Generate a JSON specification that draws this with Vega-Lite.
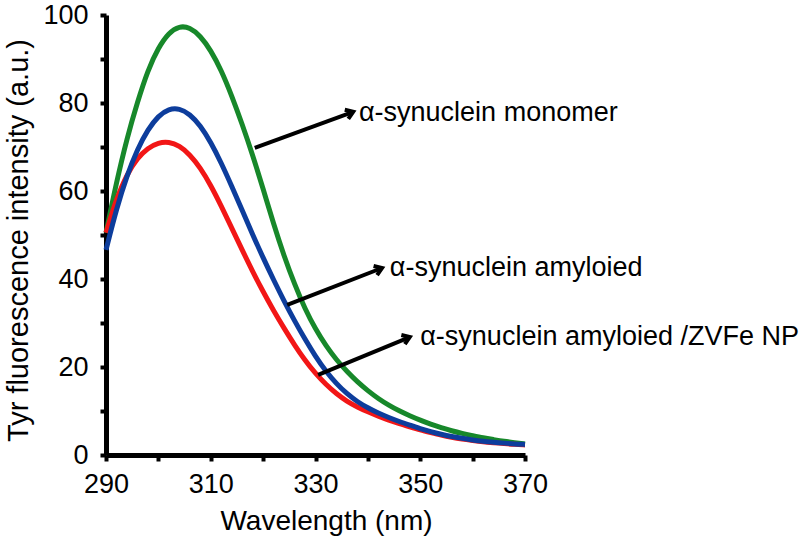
{
  "$schema": "https://vega.github.io/schema/vega-lite/v6.json",
  "width": 419,
  "height": 440,
  "autosize": "none",
  "padding": {"left": 106, "top": 15, "right": 285, "bottom": 85},
  "background": "white",
  "config": {
    "view": {"stroke": null},
    "font": "Liberation Sans",
    "axis": {"grid": false, "domainColor": "black", "tickColor": "black", "labelColor": "black", "titleColor": "black", "labelFont": "Liberation Sans", "titleFont": "Liberation Sans", "titleFontWeight": "normal"}
  },
  "datasets": {
    "curves": [
      {"wl": 290, "v": 50.5, "s": "monomer"}, {"wl": 292, "v": 62, "s": "monomer"}, {"wl": 294, "v": 72, "s": "monomer"}, {"wl": 296, "v": 80.2, "s": "monomer"}, {"wl": 298, "v": 87.5, "s": "monomer"}, {"wl": 300, "v": 92.6, "s": "monomer"}, {"wl": 302, "v": 96, "s": "monomer"}, {"wl": 304, "v": 97.5, "s": "monomer"}, {"wl": 306, "v": 97.2, "s": "monomer"}, {"wl": 308, "v": 95.3, "s": "monomer"}, {"wl": 310, "v": 92, "s": "monomer"}, {"wl": 312, "v": 87.5, "s": "monomer"}, {"wl": 314, "v": 81.7, "s": "monomer"}, {"wl": 316, "v": 75.2, "s": "monomer"}, {"wl": 318, "v": 68.2, "s": "monomer"}, {"wl": 320, "v": 60.5, "s": "monomer"}, {"wl": 322, "v": 52.5, "s": "monomer"}, {"wl": 324, "v": 45.2, "s": "monomer"}, {"wl": 326, "v": 38.8, "s": "monomer"}, {"wl": 328, "v": 33.2, "s": "monomer"}, {"wl": 330, "v": 28.6, "s": "monomer"}, {"wl": 332, "v": 24.8, "s": "monomer"}, {"wl": 334, "v": 21.6, "s": "monomer"}, {"wl": 336, "v": 19, "s": "monomer"}, {"wl": 338, "v": 16.6, "s": "monomer"}, {"wl": 340, "v": 14.6, "s": "monomer"}, {"wl": 342, "v": 12.8, "s": "monomer"}, {"wl": 344, "v": 11.3, "s": "monomer"}, {"wl": 346, "v": 10.0, "s": "monomer"}, {"wl": 348, "v": 8.9, "s": "monomer"}, {"wl": 350, "v": 7.9, "s": "monomer"}, {"wl": 352, "v": 7.0, "s": "monomer"}, {"wl": 354, "v": 6.2, "s": "monomer"}, {"wl": 356, "v": 5.5, "s": "monomer"}, {"wl": 358, "v": 4.9, "s": "monomer"}, {"wl": 360, "v": 4.4, "s": "monomer"}, {"wl": 362, "v": 3.9, "s": "monomer"}, {"wl": 364, "v": 3.5, "s": "monomer"}, {"wl": 366, "v": 3.1, "s": "monomer"}, {"wl": 368, "v": 2.8, "s": "monomer"}, {"wl": 370, "v": 2.5, "s": "monomer"},
      {"wl": 290, "v": 50.5, "s": "np"}, {"wl": 292, "v": 58.3, "s": "np"}, {"wl": 294, "v": 63.8, "s": "np"}, {"wl": 296, "v": 67.5, "s": "np"}, {"wl": 298, "v": 69.8, "s": "np"}, {"wl": 300, "v": 71, "s": "np"}, {"wl": 302, "v": 71.2, "s": "np"}, {"wl": 304, "v": 70.3, "s": "np"}, {"wl": 306, "v": 68.3, "s": "np"}, {"wl": 308, "v": 65.3, "s": "np"}, {"wl": 310, "v": 61.3, "s": "np"}, {"wl": 312, "v": 56.6, "s": "np"}, {"wl": 314, "v": 51.6, "s": "np"}, {"wl": 316, "v": 46.6, "s": "np"}, {"wl": 318, "v": 41.7, "s": "np"}, {"wl": 320, "v": 37.1, "s": "np"}, {"wl": 322, "v": 32.8, "s": "np"}, {"wl": 324, "v": 28.8, "s": "np"}, {"wl": 326, "v": 25, "s": "np"}, {"wl": 328, "v": 21.5, "s": "np"}, {"wl": 330, "v": 18.5, "s": "np"}, {"wl": 332, "v": 16, "s": "np"}, {"wl": 334, "v": 13.9, "s": "np"}, {"wl": 336, "v": 12.2, "s": "np"}, {"wl": 338, "v": 10.9, "s": "np"}, {"wl": 340, "v": 9.8, "s": "np"}, {"wl": 342, "v": 8.8, "s": "np"}, {"wl": 344, "v": 7.9, "s": "np"}, {"wl": 346, "v": 7.1, "s": "np"}, {"wl": 348, "v": 6.4, "s": "np"}, {"wl": 350, "v": 5.7, "s": "np"}, {"wl": 352, "v": 5.1, "s": "np"}, {"wl": 354, "v": 4.5, "s": "np"}, {"wl": 356, "v": 4.0, "s": "np"}, {"wl": 358, "v": 3.6, "s": "np"}, {"wl": 360, "v": 3.3, "s": "np"}, {"wl": 362, "v": 3.0, "s": "np"}, {"wl": 364, "v": 2.8, "s": "np"}, {"wl": 366, "v": 2.6, "s": "np"}, {"wl": 368, "v": 2.4, "s": "np"}, {"wl": 370, "v": 2.3, "s": "np"},
      {"wl": 290, "v": 46.6, "s": "amyloid"}, {"wl": 292, "v": 56, "s": "amyloid"}, {"wl": 294, "v": 63.5, "s": "amyloid"}, {"wl": 296, "v": 69.5, "s": "amyloid"}, {"wl": 298, "v": 74, "s": "amyloid"}, {"wl": 300, "v": 77.1, "s": "amyloid"}, {"wl": 302, "v": 78.7, "s": "amyloid"}, {"wl": 304, "v": 78.8, "s": "amyloid"}, {"wl": 306, "v": 77.5, "s": "amyloid"}, {"wl": 308, "v": 74.9, "s": "amyloid"}, {"wl": 310, "v": 71.1, "s": "amyloid"}, {"wl": 312, "v": 66.4, "s": "amyloid"}, {"wl": 314, "v": 61.1, "s": "amyloid"}, {"wl": 316, "v": 55.6, "s": "amyloid"}, {"wl": 318, "v": 50.1, "s": "amyloid"}, {"wl": 320, "v": 44.8, "s": "amyloid"}, {"wl": 322, "v": 39.8, "s": "amyloid"}, {"wl": 324, "v": 35, "s": "amyloid"}, {"wl": 326, "v": 30.5, "s": "amyloid"}, {"wl": 328, "v": 26.3, "s": "amyloid"}, {"wl": 330, "v": 22.4, "s": "amyloid"}, {"wl": 332, "v": 19, "s": "amyloid"}, {"wl": 334, "v": 16.2, "s": "amyloid"}, {"wl": 336, "v": 13.9, "s": "amyloid"}, {"wl": 338, "v": 12.1, "s": "amyloid"}, {"wl": 340, "v": 10.7, "s": "amyloid"}, {"wl": 342, "v": 9.5, "s": "amyloid"}, {"wl": 344, "v": 8.5, "s": "amyloid"}, {"wl": 346, "v": 7.6, "s": "amyloid"}, {"wl": 348, "v": 6.8, "s": "amyloid"}, {"wl": 350, "v": 6.0, "s": "amyloid"}, {"wl": 352, "v": 5.3, "s": "amyloid"}, {"wl": 354, "v": 4.7, "s": "amyloid"}, {"wl": 356, "v": 4.2, "s": "amyloid"}, {"wl": 358, "v": 3.8, "s": "amyloid"}, {"wl": 360, "v": 3.4, "s": "amyloid"}, {"wl": 362, "v": 3.1, "s": "amyloid"}, {"wl": 364, "v": 2.9, "s": "amyloid"}, {"wl": 366, "v": 2.7, "s": "amyloid"}, {"wl": 368, "v": 2.5, "s": "amyloid"}, {"wl": 370, "v": 2.4, "s": "amyloid"}
    ],
    "notes": [
      {"x1": 318.4, "y1": 69.8, "x2": 337.2, "y2": 78.0, "tx": 338.3, "ty": 77.7, "label": "α-synuclein monomer"},
      {"x1": 324.6, "y1": 34.1, "x2": 342.7, "y2": 42.5, "tx": 344.2, "ty": 42.5, "label": "α-synuclein amyloied"},
      {"x1": 330.5, "y1": 18.2, "x2": 348.0, "y2": 26.8, "tx": 350.0, "ty": 26.8, "label": "α-synuclein amyloied /ZVFe NP"}
    ]
  },
  "layer": [
    {
      "data": {"name": "curves"},
      "transform": [{"filter": "datum.s == 'monomer'"}],
      "mark": {"type": "line", "interpolate": "basis", "strokeWidth": 5, "color": "#17882a"},
      "encoding": {
        "x": {"field": "wl", "type": "quantitative", "scale": {"domain": [290, 370], "nice": false, "zero": false},
          "axis": {"values": [290, 300, 310, 320, 330, 340, 350, 360, 370], "labelExpr": "datum.value % 20 == 10 ? datum.label : ''", "title": "Wavelength (nm)", "labelFontSize": 27, "titleFontSize": 28, "titleX": 220, "domainWidth": 5, "tickWidth": 4, "tickSize": 6, "labelPadding": 10, "titlePadding": 10, "labelFlush": false, "labelOverlap": false}},
        "y": {"field": "v", "type": "quantitative", "scale": {"domain": [0, 100], "nice": false},
          "axis": {"values": [0, 10, 20, 30, 40, 50, 60, 70, 80, 90, 100], "labelExpr": "datum.value % 20 == 0 ? datum.label : ''", "title": "Tyr fluorescence intensity (a.u.)", "labelFontSize": 27, "titleFontSize": 29, "titleLimit": 700, "titleY": 225, "domainWidth": 5, "tickWidth": 4, "tickSize": 6, "labelPadding": 12, "titlePadding": 9, "labelFlush": false, "labelOverlap": false}}
      }
    },
    {
      "data": {"name": "curves"},
      "transform": [{"filter": "datum.s == 'np'"}],
      "mark": {"type": "line", "interpolate": "basis", "strokeWidth": 5, "color": "#f21616"},
      "encoding": {
        "x": {"field": "wl", "type": "quantitative"},
        "y": {"field": "v", "type": "quantitative"}
      }
    },
    {
      "data": {"name": "curves"},
      "transform": [{"filter": "datum.s == 'amyloid'"}],
      "mark": {"type": "line", "interpolate": "basis", "strokeWidth": 5, "color": "#0d3d9c"},
      "encoding": {
        "x": {"field": "wl", "type": "quantitative"},
        "y": {"field": "v", "type": "quantitative"}
      }
    },
    {
      "data": {"name": "notes"},
      "mark": {"type": "rule", "strokeWidth": 4, "color": "black"},
      "encoding": {
        "x": {"field": "x1", "type": "quantitative"},
        "y": {"field": "y1", "type": "quantitative"},
        "x2": {"field": "x2"},
        "y2": {"field": "y2"}
      }
    },
    {
      "data": {"name": "notes"},
      "mark": {"type": "point", "shape": "M-0.8,-0.55L0,0L-0.8,0.55", "filled": false, "stroke": "black", "strokeWidth": 4, "size": 320, "angle": -21, "opacity": 1, "strokeJoin": "miter"},
      "encoding": {
        "x": {"field": "x2", "type": "quantitative"},
        "y": {"field": "y2", "type": "quantitative"}
      }
    },
    {
      "data": {"name": "notes"},
      "mark": {"type": "text", "align": "left", "baseline": "middle", "fontSize": 27, "font": "Liberation Sans", "color": "black"},
      "encoding": {
        "x": {"field": "tx", "type": "quantitative"},
        "y": {"field": "ty", "type": "quantitative"},
        "text": {"field": "label"}
      }
    }
  ]
}
